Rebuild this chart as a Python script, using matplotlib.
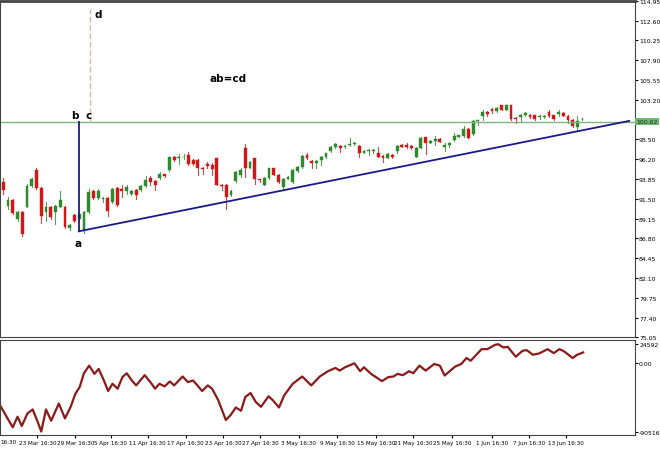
import matplotlib
matplotlib.use("Agg")
import matplotlib.pyplot as plt
import numpy as np

# candles (open, close, high, low)
opens = [93.46,90.66,91.34,89.06,89.94,90.54,92.94,94.86,92.74,89.94,90.46,89.94,90.54,90.46,87.94,89.54,89.06,87.66,89.86,92.34,
         91.54,91.38,91.54,91.06,92.74,92.58,92.34,92.06,92.46,92.54,92.94,93.98,93.54,93.98,94.38,94.86,96.38,96.26,96.38,96.66,
         96.06,96.06,95.06,95.54,95.46,96.26,93.14,93.14,91.86,93.54,94.26,97.54,95.14,96.26,93.78,93.14,93.94,95.06,94.34,92.86,
         93.86,93.46,94.78,95.26,96.66,95.94,95.66,96.06,96.45,97.17,97.57,97.77,97.57,97.85,97.97,97.77,96.93,97.13,97.13,96.85,
         96.57,96.33,96.65,97.17,97.85,97.85,97.73,96.45,97.53,98.77,98.13,98.33,98.57,97.65,97.85,98.45,98.85,98.93,99.73,99.13,
         100.65,101.25,101.73,102.17,101.85,102.53,102.05,102.53,101.05,101.13,101.45,101.45,101.37,101.17,101.17,101.73,101.37,101.57,101.65,101.33,
         100.85,99.93,100.89]
closes = [92.46,91.26,89.78,89.94,87.26,92.94,93.78,92.74,89.46,90.46,89.34,90.66,91.26,88.06,88.34,88.86,89.66,89.94,92.26,91.54,
          92.34,91.54,90.06,92.66,90.74,92.34,92.86,92.34,91.86,92.94,93.66,93.46,93.06,94.46,94.14,96.38,96.06,96.46,96.46,95.54,
          95.54,95.06,94.98,95.38,94.98,93.14,92.98,91.66,92.34,94.66,94.86,95.06,95.86,93.78,93.66,93.94,95.06,94.34,93.46,93.86,
          94.06,94.86,95.26,96.58,96.26,95.66,95.94,96.46,96.85,97.57,97.93,97.53,97.73,97.97,98.05,96.85,97.17,97.25,97.17,96.45,
          96.33,96.77,96.37,97.73,97.65,97.57,97.45,97.53,98.73,98.05,98.33,98.57,98.25,97.85,98.05,98.93,98.97,99.77,98.73,100.65,
          100.77,101.77,101.57,101.85,102.25,102.05,102.53,100.93,100.93,101.45,101.65,101.17,100.97,101.25,101.33,101.25,100.97,101.73,101.33,100.85,
          100.05,100.73,100.97]
highs = [93.94,91.66,91.46,90.06,90.06,93.26,93.94,95.14,92.86,91.06,90.66,90.74,92.34,90.66,88.46,89.66,89.80,90.06,92.66,92.46,
         92.66,91.66,91.66,92.74,92.86,93.06,93.06,92.46,92.58,93.06,94.18,94.18,93.66,94.66,94.46,96.46,96.58,96.74,96.74,97.06,
         96.18,96.18,95.26,95.86,95.66,96.34,93.26,93.26,92.46,94.74,95.06,97.94,95.94,96.34,93.86,94.06,95.14,95.14,94.46,93.94,
         94.18,94.98,95.38,96.66,96.86,96.06,96.06,96.58,96.95,97.70,98.05,97.85,97.85,98.65,98.25,97.85,97.25,97.33,97.33,97.57,
         96.65,96.85,96.73,97.85,97.97,98.13,97.85,97.65,98.85,98.85,98.45,98.93,98.65,98.05,98.13,99.25,99.05,100.05,99.85,100.77,
         100.85,102.05,101.85,102.25,102.33,102.60,102.60,102.60,101.17,101.57,101.77,101.57,101.45,101.45,101.45,101.97,101.45,101.97,101.73,101.45,
         100.93,101.25,101.05]
lows = [92.06,90.26,89.66,88.86,87.06,90.46,92.86,92.66,88.58,88.86,89.06,88.46,90.46,87.94,87.78,88.66,88.90,87.46,89.78,91.46,
        91.46,91.06,89.46,90.98,90.66,91.66,92.06,91.94,91.46,92.42,92.86,93.06,92.46,93.86,94.06,94.78,95.94,95.54,96.18,95.46,
        95.46,94.26,94.46,95.06,94.26,93.06,92.46,90.26,91.78,93.46,94.06,94.06,95.06,93.26,93.46,93.06,93.86,94.26,93.38,92.66,
        93.78,93.38,94.66,95.14,96.18,95.06,95.06,95.46,96.35,97.05,97.45,97.05,97.45,97.73,97.85,96.37,96.85,96.65,96.85,96.37,
        95.85,96.25,96.29,96.85,97.57,97.45,97.33,96.37,97.45,96.77,98.05,97.85,98.17,97.17,97.57,98.37,98.77,98.85,98.65,99.05,
        100.25,100.85,101.33,101.65,101.77,101.97,101.97,100.85,100.45,100.65,101.25,101.05,100.85,100.93,101.05,101.17,100.77,101.25,101.25,100.45,
        99.97,99.45,100.85]

# oscillator (x in candle index units)
osc_x = [-0.7,1.1,2.0,3.0,3.9,5.1,6.2,7.1,8.0,9.0,10.1,11.7,13.0,14.2,15.2,16.1,17.0,18.1,19.2,20.1,
         21.2,22.1,23.0,24.1,25.1,26.0,27.2,28.0,29.8,31.0,32.0,32.9,34.0,35.1,36.0,37.8,38.9,40.0,40.9,41.9,
         43.1,44.0,45.3,46.9,47.9,49.0,50.1,51.0,52.1,53.2,54.3,55.9,56.8,58.1,59.2,61.0,63.0,64.9,66.7,68.4,
         70.0,70.9,72.0,74.0,75.2,76.0,77.5,79.8,81.1,82.2,83.1,84.2,85.5,86.4,87.7,89.0,90.8,92.0,93.0,95.2,
         96.5,97.6,98.5,100.8,102.0,103.6,104.3,105.4,106.3,108.0,109.4,110.3,111.6,112.9,114.7,116.0,117.2,118.2,120.0,120.9,
         122.2]
osc_v = [-55498,-75028,-84576,-70688,-82840,-66348,-61140,-75028,-90218,-61140,-75896,-53328,-72858,-57668,-40308,-31628,-13400,-3418,-14268,-7758,
         -22948,-36836,-27288,-33798,-18608,-13400,-23816,-29458,-16004,-25118,-33798,-27288,-30760,-24250,-29458,-17740,-25118,-22948,-29458,-36836,
         -29458,-33798,-48988,-75028,-68518,-58536,-62876,-44648,-39440,-51158,-57668,-43780,-48988,-58536,-42478,-27288,-17740,-29458,-17740,-10796,
         -6456,-9928,-5588,-380,-10796,-5588,-14268,-23816,-18608,-17740,-14268,-16004,-10796,-13400,-3418,-9928,-1248,-3418,-16438,-4720,
         -1248,6564,3092,18282,18282,23924,24792,20452,21320,8300,16112,16980,10904,12640,18282,13074,18282,15244,6564,10904,
         13942]

price_ticks = [114.95,112.60,110.25,107.90,105.55,103.20,98.50,96.20,93.85,91.50,89.15,86.80,84.45,82.10,79.75,77.40,75.05]
price_tick_pos = [114.95,112.60,110.25,107.90,105.55,103.20,98.50,96.15,93.80,91.45,89.10,86.75,84.40,82.05,79.70,77.35,75.05]
last_price = 100.62
date_labels = ["23 Mar 16:30","29 Mar 16:30","5 Apr 16:30","11 Apr 16:30","17 Apr 16:30","23 Apr 16:30","27 Apr 16:30",
               "3 May 16:30","9 May 16:30","15 May 16:30","21 May 16:30","25 May 16:30","1 Jun 16:30","7 Jun 16:30","13 Jun 16:30"]
date_pos = [7.2,15.2,22.6,30.4,38.4,46.4,54.1,62.3,70.3,78.5,86.3,94.5,102.9,110.7,118.6]

fig = plt.figure(figsize=(6.6, 4.52), dpi=100)
ax = fig.add_axes([0.0, 0.252, 0.962, 0.744])
ax2 = fig.add_axes([0.0, 0.035, 0.962, 0.21])
xlim = (-0.69, 133.1)

up_c, dn_c = "#2f8a2f", "#d01818"
for i, (o, c, h, l) in enumerate(zip(opens, closes, highs, lows)):
    col = up_c if c >= o else dn_c
    ax.plot([i, i], [l, h], color=col, lw=0.8, alpha=0.8)
    ax.bar(i, max(abs(c - o), 0.06), bottom=min(o, c), width=0.6, color=col, edgecolor=col, lw=0.3)

ax.axhline(last_price, color="#80b480", lw=1)
ax.plot([15.9, 131.9], [87.6, 100.7], color="#1a1a8c", lw=1.3)
ax.plot([15.9, 15.9], [87.6, last_price], color="#1a1a8c", lw=1.3)
ax.plot([18.2, 18.2], [last_price, 114.0], color="#d8b8a0", lw=1, ls=(0, (4, 2)))
ax.text(14.2, 101.0, "b", fontsize=7.5, fontweight="bold")
ax.text(17.4, 101.0, "c", fontsize=7.5, fontweight="bold")
ax.text(15.0, 85.8, "a", fontsize=7.5, fontweight="bold")
ax.text(19.2, 113.0, "d", fontsize=7.5, fontweight="bold")
ax.text(43.5, 105.4, "ab=cd", fontsize=7.5, fontweight="bold")

ax.set_xlim(*xlim)
ax.set_ylim(75.05, 114.95)
ax.yaxis.tick_right()
ax.set_yticks(price_tick_pos)
ax.set_yticklabels(["%.2f" % v for v in price_ticks])
ax.tick_params(axis="y", labelsize=4.4, length=2, pad=1)
ax.set_xticks([])
ax.text(1.002, (last_price - 75.05) / 39.9, "%.2f" % last_price, transform=ax.transAxes,
        fontsize=4.4, va="center", ha="left", color="#1a3a1a",
        bbox=dict(boxstyle="square,pad=0.2", fc="#6fb86f", ec="none"))

ax2.plot(osc_x, osc_v, color="#8b1a1a", lw=1.6)
ax2.set_xlim(*xlim)
ax2.set_ylim(-95000, 30000)
ax2.yaxis.tick_right()
ax2.set_yticks([24592, 0, -90516])
ax2.set_yticklabels(["24592", "0.00", "-90516"])
ax2.tick_params(axis="y", labelsize=4.4, length=2, pad=1)
ax2.set_xticks(date_pos)
ax2.set_xticklabels(date_labels)
ax2.tick_params(axis="x", labelsize=4.1, length=2, pad=1.5)
ax2.text(-0.69, -0.035, "16:30", transform=ax2.get_xaxis_transform(), fontsize=4.1, va="top", ha="left")

for a in (ax, ax2):
    for s in a.spines.values():
        s.set_color("#444444")
        s.set_linewidth(0.8)
ax.spines["top"].set_linewidth(2)

fig.savefig("out.png", dpi=100)
